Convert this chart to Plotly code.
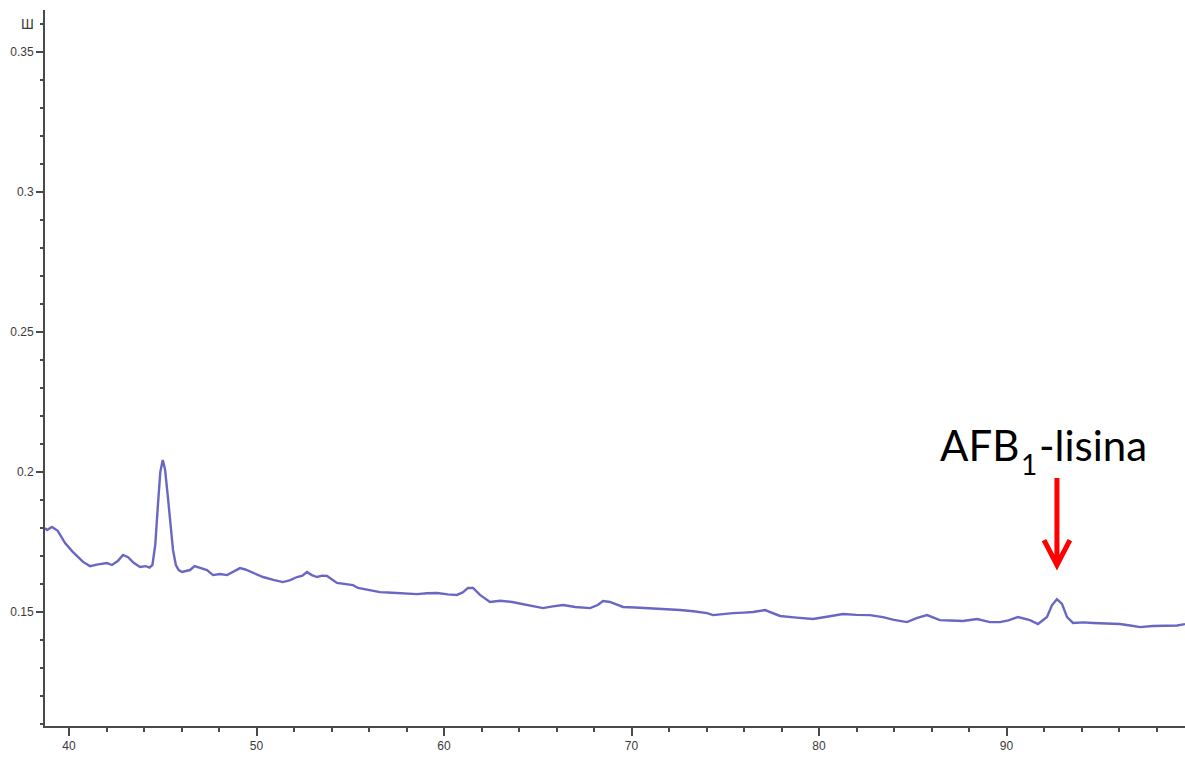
import plotly.graph_objects as go

# Chromatogram trace (retention time, absorbance)
time_min = [
    38.72, 38.83, 39.09, 39.40, 39.79, 40.20, 40.75, 41.12, 41.55, 42.03, 42.29,
    42.60, 42.88, 43.15, 43.45, 43.79, 44.10, 44.30, 44.45, 44.60, 44.74, 44.87,
    45.00, 45.12, 45.26, 45.40, 45.55, 45.70, 45.85, 46.03, 46.45, 46.70, 46.99,
    47.36, 47.68, 48.05, 48.43, 48.80, 49.12, 49.40, 49.80, 50.35, 50.90, 51.41,
    51.80, 52.16, 52.45, 52.69, 52.95, 53.23, 53.50, 53.76, 54.29, 54.70, 55.15,
    55.41, 56.00, 56.59, 57.00, 57.49, 58.00, 58.56, 59.10, 59.63, 60.20, 60.69,
    61.00, 61.28, 61.55, 61.92, 62.45, 63.00, 63.63, 64.10, 64.59, 65.28, 65.80,
    66.35, 67.00, 67.79, 68.20, 68.48, 68.85, 69.55, 70.20, 70.83, 71.70, 72.59,
    73.30, 74.03, 74.35, 74.90, 75.41, 76.00, 76.48, 77.12, 77.50, 77.92, 78.80,
    79.68, 80.50, 81.28, 82.00, 82.72, 83.41, 84.00, 84.69, 85.20, 85.76, 86.45,
    87.00, 87.68, 88.43, 89.12, 89.65, 90.10, 90.61, 91.25, 91.68, 92.16, 92.43,
    92.69, 92.96, 93.23, 93.55, 94.10, 94.61, 95.30, 96.05, 96.60, 97.12, 97.80,
    98.56, 99.10, 99.52,
]
absorbance = [
    0.1800, 0.1793, 0.1804, 0.1790, 0.1746, 0.1715, 0.1679, 0.1664, 0.1670, 0.1675, 0.1668,
    0.1682, 0.1704, 0.1696, 0.1676, 0.1661, 0.1664, 0.1659, 0.1668, 0.1740, 0.1880, 0.2000,
    0.2043, 0.2010, 0.1920, 0.1810, 0.1720, 0.1668, 0.1650, 0.1643, 0.1650, 0.1664, 0.1657,
    0.1650, 0.1632, 0.1636, 0.1632, 0.1645, 0.1657, 0.1652, 0.1640, 0.1625, 0.1615, 0.1607,
    0.1614, 0.1625, 0.1630, 0.1643, 0.1632, 0.1625, 0.1630, 0.1629, 0.1604, 0.1600, 0.1596,
    0.1586, 0.1578, 0.1571, 0.1570, 0.1568, 0.1566, 0.1564, 0.1567, 0.1568, 0.1563, 0.1561,
    0.1570, 0.1586, 0.1586, 0.1561, 0.1536, 0.1540, 0.1536, 0.1530, 0.1525, 0.1514, 0.1520,
    0.1525, 0.1518, 0.1514, 0.1525, 0.1539, 0.1536, 0.1518, 0.1516, 0.1514, 0.1512, 0.1507,
    0.1503, 0.1496, 0.1489, 0.1494, 0.1496, 0.1498, 0.1500, 0.1507, 0.1498, 0.1486, 0.1480,
    0.1475, 0.1484, 0.1493, 0.1490, 0.1489, 0.1482, 0.1472, 0.1464, 0.1478, 0.1489, 0.1471,
    0.1470, 0.1468, 0.1475, 0.1464, 0.1464, 0.1470, 0.1482, 0.1471, 0.1457, 0.1482, 0.1525,
    0.1546, 0.1529, 0.1482, 0.1461, 0.1463, 0.1461, 0.1459, 0.1457, 0.1452, 0.1446, 0.1450,
    0.1450, 0.1452, 0.1457,
]

x_range = [38.72, 99.52]
y_range = [0.1093, 0.365]

label_main = "AFB"
label_sub = "1"
label_tail = "-lisina"
peak_window = (91.5, 94.0)

# locate the labelled peak in the trace
peak_idx = max(
    (i for i, t in enumerate(time_min) if peak_window[0] <= t <= peak_window[1]),
    key=lambda i: absorbance[i],
)
peak_x = time_min[peak_idx]

axis_color = "#4a4a4a"
tick_font = dict(family="Liberation Sans, Arial, sans-serif", size=12, color="#3a3a3a")
label_font = dict(family="Lato, Open Sans, sans-serif", size=42, color="#000000")

fig = go.Figure()
fig.add_trace(
    go.Scatter(
        x=time_min,
        y=absorbance,
        mode="lines",
        line=dict(color="rgba(88,88,190,0.9)", width=2.4),
        hoverinfo="skip",
    )
)

# red arrow pointing at the peak
tip_y = 0.1668
tail_y = 0.1979
head_dx = 0.69
head_dy = 0.0089
arrow_path = (
    f"M {peak_x},{tail_y} L {peak_x},{tip_y} "
    f"M {peak_x - head_dx},{tip_y + head_dy} L {peak_x},{tip_y} "
    f"L {peak_x + head_dx},{tip_y + head_dy}"
)
fig.add_shape(
    type="path",
    path=arrow_path,
    xref="x",
    yref="y",
    line=dict(color="#ff0000", width=5),
)

# peak label: name, lowered subscript, suffix
label_y = 0.2096
fig.add_annotation(
    x=peak_x, y=label_y, xref="x", yref="y", text=label_main, showarrow=False,
    xanchor="right", yanchor="middle", xshift=-36, font=label_font,
)
fig.add_annotation(
    x=peak_x, y=label_y, xref="x", yref="y", text=label_sub, showarrow=False,
    xanchor="center", yanchor="middle", xshift=-28, yshift=-19,
    font=dict(family=label_font["family"], size=28, color="#000000"),
)
fig.add_annotation(
    x=peak_x, y=label_y, xref="x", yref="y", text=label_tail, showarrow=False,
    xanchor="left", yanchor="middle", xshift=-20, font=label_font,
)

# unit marker at the top of the value axis
fig.add_annotation(
    x=0,
    y=0.36,
    xref="paper",
    yref="y",
    text="Ш",
    showarrow=False,
    xanchor="right",
    yanchor="middle",
    xshift=-9,
    font=dict(family="Liberation Sans, Arial, sans-serif", size=14, color="#3a3a3a"),
)

fig.update_xaxes(
    range=x_range,
    showgrid=False,
    zeroline=False,
    showline=True,
    linecolor=axis_color,
    linewidth=2,
    ticks="outside",
    ticklen=8,
    tickwidth=1.5,
    tickcolor=axis_color,
    tick0=0,
    dtick=10,
    tickfont=tick_font,
    minor=dict(ticks="outside", ticklen=4, tickwidth=1.5, tickcolor=axis_color, dtick=2, tick0=0, showgrid=False),
)
fig.update_yaxes(
    range=y_range,
    showgrid=False,
    zeroline=False,
    showline=True,
    linecolor=axis_color,
    linewidth=2,
    ticks="outside",
    ticklen=7,
    tickwidth=1.5,
    tickcolor=axis_color,
    tick0=0,
    dtick=0.05,
    tickfont=tick_font,
    minor=dict(ticks="outside", ticklen=3, tickwidth=1.5, tickcolor=axis_color, dtick=0.01, tick0=0, showgrid=False),
)

fig.update_layout(
    width=1185,
    height=758,
    margin=dict(l=45, r=0, t=10, b=32),
    paper_bgcolor="#ffffff",
    plot_bgcolor="#ffffff",
    showlegend=False,
)

fig.write_html("out.html", config={"displayModeBar": False})
